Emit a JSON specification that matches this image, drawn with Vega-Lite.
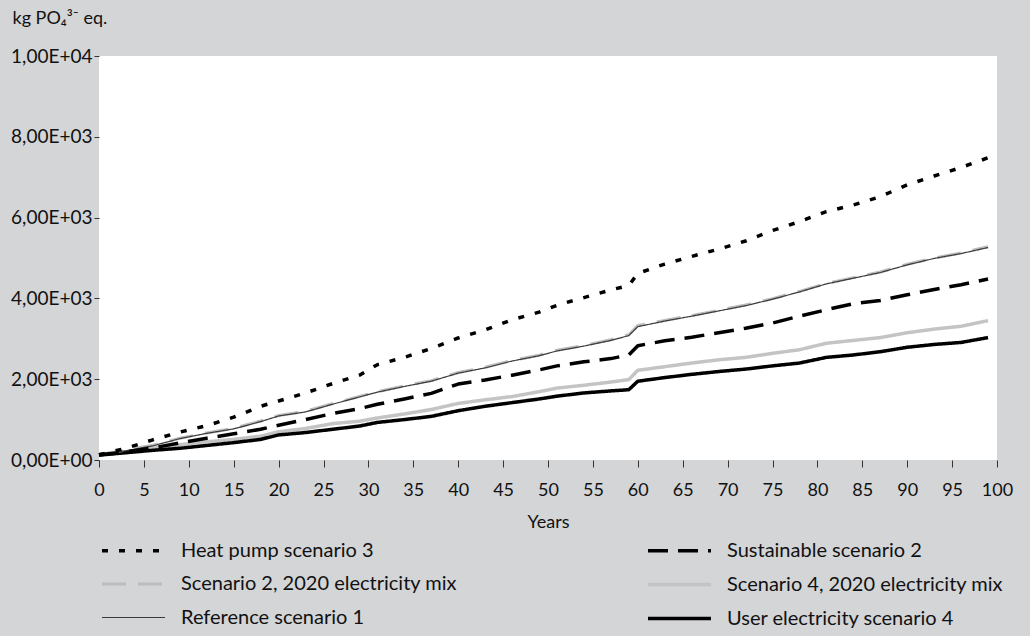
{
  "$schema": "https://vega.github.io/schema/vega-lite/v6.json",
  "width": 898,
  "height": 404,
  "autosize": "none",
  "padding": {"left": 99, "top": 56, "right": 33, "bottom": 176},
  "background": "#d4d5d7",
  "config": {
    "view": {"fill": "white", "stroke": null},
    "font": "Lato",
    "axis": {"labelFont": "Lato", "titleFont": "Lato", "labelColor": "#111", "titleColor": "#111", "tickColor": "#333", "grid": false, "domain": false}
  },
  "data": {"values": [
    {"series":"Scenario 4, 2020 electricity mix","year":0,"value":130},{"series":"Scenario 4, 2020 electricity mix","year":3,"value":200},{"series":"Scenario 4, 2020 electricity mix","year":6,"value":290},{"series":"Scenario 4, 2020 electricity mix","year":9,"value":380},{"series":"Scenario 4, 2020 electricity mix","year":12,"value":450},{"series":"Scenario 4, 2020 electricity mix","year":15,"value":510},{"series":"Scenario 4, 2020 electricity mix","year":18,"value":590},{"series":"Scenario 4, 2020 electricity mix","year":20,"value":700},{"series":"Scenario 4, 2020 electricity mix","year":23,"value":780},{"series":"Scenario 4, 2020 electricity mix","year":26,"value":900},{"series":"Scenario 4, 2020 electricity mix","year":29,"value":960},{"series":"Scenario 4, 2020 electricity mix","year":31,"value":1040},{"series":"Scenario 4, 2020 electricity mix","year":34,"value":1140},{"series":"Scenario 4, 2020 electricity mix","year":37,"value":1250},{"series":"Scenario 4, 2020 electricity mix","year":40,"value":1400},{"series":"Scenario 4, 2020 electricity mix","year":43,"value":1490},{"series":"Scenario 4, 2020 electricity mix","year":46,"value":1570},{"series":"Scenario 4, 2020 electricity mix","year":49,"value":1690},{"series":"Scenario 4, 2020 electricity mix","year":51,"value":1780},{"series":"Scenario 4, 2020 electricity mix","year":54,"value":1850},{"series":"Scenario 4, 2020 electricity mix","year":57,"value":1930},{"series":"Scenario 4, 2020 electricity mix","year":59,"value":1990},{"series":"Scenario 4, 2020 electricity mix","year":60,"value":2220},{"series":"Scenario 4, 2020 electricity mix","year":63,"value":2310},{"series":"Scenario 4, 2020 electricity mix","year":66,"value":2400},{"series":"Scenario 4, 2020 electricity mix","year":69,"value":2480},{"series":"Scenario 4, 2020 electricity mix","year":72,"value":2540},{"series":"Scenario 4, 2020 electricity mix","year":75,"value":2640},{"series":"Scenario 4, 2020 electricity mix","year":78,"value":2730},{"series":"Scenario 4, 2020 electricity mix","year":81,"value":2890},{"series":"Scenario 4, 2020 electricity mix","year":84,"value":2960},{"series":"Scenario 4, 2020 electricity mix","year":87,"value":3030},{"series":"Scenario 4, 2020 electricity mix","year":90,"value":3150},{"series":"Scenario 4, 2020 electricity mix","year":93,"value":3240},{"series":"Scenario 4, 2020 electricity mix","year":96,"value":3310},{"series":"Scenario 4, 2020 electricity mix","year":99,"value":3450},
    {"series":"User electricity scenario 4","year":0,"value":120},{"series":"User electricity scenario 4","year":3,"value":180},{"series":"User electricity scenario 4","year":6,"value":240},{"series":"User electricity scenario 4","year":9,"value":290},{"series":"User electricity scenario 4","year":12,"value":360},{"series":"User electricity scenario 4","year":15,"value":430},{"series":"User electricity scenario 4","year":18,"value":510},{"series":"User electricity scenario 4","year":20,"value":620},{"series":"User electricity scenario 4","year":23,"value":680},{"series":"User electricity scenario 4","year":26,"value":760},{"series":"User electricity scenario 4","year":29,"value":840},{"series":"User electricity scenario 4","year":31,"value":930},{"series":"User electricity scenario 4","year":34,"value":1000},{"series":"User electricity scenario 4","year":37,"value":1080},{"series":"User electricity scenario 4","year":40,"value":1220},{"series":"User electricity scenario 4","year":43,"value":1330},{"series":"User electricity scenario 4","year":46,"value":1420},{"series":"User electricity scenario 4","year":49,"value":1510},{"series":"User electricity scenario 4","year":51,"value":1580},{"series":"User electricity scenario 4","year":54,"value":1660},{"series":"User electricity scenario 4","year":57,"value":1710},{"series":"User electricity scenario 4","year":59,"value":1740},{"series":"User electricity scenario 4","year":60,"value":1950},{"series":"User electricity scenario 4","year":63,"value":2040},{"series":"User electricity scenario 4","year":66,"value":2120},{"series":"User electricity scenario 4","year":69,"value":2190},{"series":"User electricity scenario 4","year":72,"value":2250},{"series":"User electricity scenario 4","year":75,"value":2330},{"series":"User electricity scenario 4","year":78,"value":2400},{"series":"User electricity scenario 4","year":81,"value":2540},{"series":"User electricity scenario 4","year":84,"value":2600},{"series":"User electricity scenario 4","year":87,"value":2680},{"series":"User electricity scenario 4","year":90,"value":2790},{"series":"User electricity scenario 4","year":93,"value":2860},{"series":"User electricity scenario 4","year":96,"value":2910},{"series":"User electricity scenario 4","year":99,"value":3030},
    {"series":"Scenario 2, 2020 electricity mix","year":0,"value":135},{"series":"Scenario 2, 2020 electricity mix","year":3,"value":245},{"series":"Scenario 2, 2020 electricity mix","year":6,"value":365},{"series":"Scenario 2, 2020 electricity mix","year":9,"value":540},{"series":"Scenario 2, 2020 electricity mix","year":12,"value":670},{"series":"Scenario 2, 2020 electricity mix","year":15,"value":785},{"series":"Scenario 2, 2020 electricity mix","year":18,"value":965},{"series":"Scenario 2, 2020 electricity mix","year":20,"value":1100},{"series":"Scenario 2, 2020 electricity mix","year":23,"value":1205},{"series":"Scenario 2, 2020 electricity mix","year":26,"value":1395},{"series":"Scenario 2, 2020 electricity mix","year":29,"value":1575},{"series":"Scenario 2, 2020 electricity mix","year":31,"value":1690},{"series":"Scenario 2, 2020 electricity mix","year":34,"value":1835},{"series":"Scenario 2, 2020 electricity mix","year":37,"value":1965},{"series":"Scenario 2, 2020 electricity mix","year":40,"value":2165},{"series":"Scenario 2, 2020 electricity mix","year":43,"value":2295},{"series":"Scenario 2, 2020 electricity mix","year":46,"value":2465},{"series":"Scenario 2, 2020 electricity mix","year":49,"value":2595},{"series":"Scenario 2, 2020 electricity mix","year":51,"value":2715},{"series":"Scenario 2, 2020 electricity mix","year":54,"value":2835},{"series":"Scenario 2, 2020 electricity mix","year":57,"value":2975},{"series":"Scenario 2, 2020 electricity mix","year":59,"value":3100},{"series":"Scenario 2, 2020 electricity mix","year":60,"value":3330},{"series":"Scenario 2, 2020 electricity mix","year":63,"value":3455},{"series":"Scenario 2, 2020 electricity mix","year":66,"value":3575},{"series":"Scenario 2, 2020 electricity mix","year":69,"value":3705},{"series":"Scenario 2, 2020 electricity mix","year":72,"value":3835},{"series":"Scenario 2, 2020 electricity mix","year":75,"value":3995},{"series":"Scenario 2, 2020 electricity mix","year":78,"value":4175},{"series":"Scenario 2, 2020 electricity mix","year":81,"value":4370},{"series":"Scenario 2, 2020 electricity mix","year":84,"value":4515},{"series":"Scenario 2, 2020 electricity mix","year":87,"value":4655},{"series":"Scenario 2, 2020 electricity mix","year":90,"value":4845},{"series":"Scenario 2, 2020 electricity mix","year":93,"value":5000},{"series":"Scenario 2, 2020 electricity mix","year":96,"value":5125},{"series":"Scenario 2, 2020 electricity mix","year":99,"value":5280},
    {"series":"Reference scenario 1","year":0,"value":130},{"series":"Reference scenario 1","year":3,"value":230},{"series":"Reference scenario 1","year":6,"value":350},{"series":"Reference scenario 1","year":9,"value":530},{"series":"Reference scenario 1","year":12,"value":660},{"series":"Reference scenario 1","year":15,"value":770},{"series":"Reference scenario 1","year":18,"value":950},{"series":"Reference scenario 1","year":20,"value":1090},{"series":"Reference scenario 1","year":23,"value":1190},{"series":"Reference scenario 1","year":26,"value":1380},{"series":"Reference scenario 1","year":29,"value":1560},{"series":"Reference scenario 1","year":31,"value":1680},{"series":"Reference scenario 1","year":34,"value":1820},{"series":"Reference scenario 1","year":37,"value":1950},{"series":"Reference scenario 1","year":40,"value":2150},{"series":"Reference scenario 1","year":43,"value":2280},{"series":"Reference scenario 1","year":46,"value":2450},{"series":"Reference scenario 1","year":49,"value":2580},{"series":"Reference scenario 1","year":51,"value":2700},{"series":"Reference scenario 1","year":54,"value":2820},{"series":"Reference scenario 1","year":57,"value":2960},{"series":"Reference scenario 1","year":59,"value":3080},{"series":"Reference scenario 1","year":60,"value":3300},{"series":"Reference scenario 1","year":63,"value":3440},{"series":"Reference scenario 1","year":66,"value":3560},{"series":"Reference scenario 1","year":69,"value":3690},{"series":"Reference scenario 1","year":72,"value":3820},{"series":"Reference scenario 1","year":75,"value":3980},{"series":"Reference scenario 1","year":78,"value":4160},{"series":"Reference scenario 1","year":81,"value":4360},{"series":"Reference scenario 1","year":84,"value":4500},{"series":"Reference scenario 1","year":87,"value":4640},{"series":"Reference scenario 1","year":90,"value":4830},{"series":"Reference scenario 1","year":93,"value":4990},{"series":"Reference scenario 1","year":96,"value":5110},{"series":"Reference scenario 1","year":99,"value":5260},
    {"series":"Sustainable scenario 2","year":0,"value":130},{"series":"Sustainable scenario 2","year":3,"value":200},{"series":"Sustainable scenario 2","year":6,"value":300},{"series":"Sustainable scenario 2","year":9,"value":420},{"series":"Sustainable scenario 2","year":12,"value":540},{"series":"Sustainable scenario 2","year":15,"value":650},{"series":"Sustainable scenario 2","year":18,"value":760},{"series":"Sustainable scenario 2","year":20,"value":860},{"series":"Sustainable scenario 2","year":23,"value":1000},{"series":"Sustainable scenario 2","year":26,"value":1150},{"series":"Sustainable scenario 2","year":29,"value":1270},{"series":"Sustainable scenario 2","year":31,"value":1380},{"series":"Sustainable scenario 2","year":34,"value":1510},{"series":"Sustainable scenario 2","year":37,"value":1650},{"series":"Sustainable scenario 2","year":40,"value":1880},{"series":"Sustainable scenario 2","year":43,"value":1980},{"series":"Sustainable scenario 2","year":46,"value":2100},{"series":"Sustainable scenario 2","year":49,"value":2230},{"series":"Sustainable scenario 2","year":51,"value":2330},{"series":"Sustainable scenario 2","year":54,"value":2430},{"series":"Sustainable scenario 2","year":57,"value":2510},{"series":"Sustainable scenario 2","year":59,"value":2600},{"series":"Sustainable scenario 2","year":60,"value":2830},{"series":"Sustainable scenario 2","year":63,"value":2950},{"series":"Sustainable scenario 2","year":66,"value":3040},{"series":"Sustainable scenario 2","year":69,"value":3150},{"series":"Sustainable scenario 2","year":72,"value":3260},{"series":"Sustainable scenario 2","year":75,"value":3390},{"series":"Sustainable scenario 2","year":78,"value":3560},{"series":"Sustainable scenario 2","year":81,"value":3720},{"series":"Sustainable scenario 2","year":84,"value":3870},{"series":"Sustainable scenario 2","year":87,"value":3950},{"series":"Sustainable scenario 2","year":90,"value":4090},{"series":"Sustainable scenario 2","year":93,"value":4220},{"series":"Sustainable scenario 2","year":96,"value":4340},{"series":"Sustainable scenario 2","year":99,"value":4480},
    {"series":"Heat pump scenario 3","year":0,"value":130},{"series":"Heat pump scenario 3","year":3,"value":290},{"series":"Heat pump scenario 3","year":6,"value":500},{"series":"Heat pump scenario 3","year":9,"value":690},{"series":"Heat pump scenario 3","year":12,"value":850},{"series":"Heat pump scenario 3","year":15,"value":1060},{"series":"Heat pump scenario 3","year":18,"value":1330},{"series":"Heat pump scenario 3","year":20,"value":1460},{"series":"Heat pump scenario 3","year":23,"value":1660},{"series":"Heat pump scenario 3","year":26,"value":1890},{"series":"Heat pump scenario 3","year":29,"value":2100},{"series":"Heat pump scenario 3","year":31,"value":2360},{"series":"Heat pump scenario 3","year":34,"value":2540},{"series":"Heat pump scenario 3","year":37,"value":2760},{"series":"Heat pump scenario 3","year":40,"value":3020},{"series":"Heat pump scenario 3","year":43,"value":3220},{"series":"Heat pump scenario 3","year":46,"value":3470},{"series":"Heat pump scenario 3","year":49,"value":3660},{"series":"Heat pump scenario 3","year":51,"value":3830},{"series":"Heat pump scenario 3","year":54,"value":4020},{"series":"Heat pump scenario 3","year":57,"value":4210},{"series":"Heat pump scenario 3","year":59,"value":4320},{"series":"Heat pump scenario 3","year":60,"value":4620},{"series":"Heat pump scenario 3","year":63,"value":4850},{"series":"Heat pump scenario 3","year":66,"value":5040},{"series":"Heat pump scenario 3","year":69,"value":5220},{"series":"Heat pump scenario 3","year":72,"value":5420},{"series":"Heat pump scenario 3","year":75,"value":5680},{"series":"Heat pump scenario 3","year":78,"value":5900},{"series":"Heat pump scenario 3","year":81,"value":6150},{"series":"Heat pump scenario 3","year":84,"value":6310},{"series":"Heat pump scenario 3","year":87,"value":6520},{"series":"Heat pump scenario 3","year":90,"value":6810},{"series":"Heat pump scenario 3","year":93,"value":7030},{"series":"Heat pump scenario 3","year":96,"value":7240},{"series":"Heat pump scenario 3","year":99,"value":7480}
  ]},
  "mark": {"type": "line", "strokeCap": "butt", "strokeJoin": "round"},
  "encoding": {
    "x": {"field": "year", "type": "quantitative", "scale": {"domain": [0, 100], "nice": false, "zero": false},
      "axis": {"values": [0,5,10,15,20,25,30,35,40,45,50,55,60,65,70,75,80,85,90,95,100], "title": "Years", "titleFontSize": 18, "titleFontWeight": "normal", "titlePadding": 14, "labelFontSize": 18, "tickSize": 7, "labelPadding": 14, "labelDx": 4, "labelFlush": false}},
    "y": {"field": "value", "type": "quantitative", "scale": {"domain": [0, 10000], "nice": false},
      "axis": {"values": [0,2000,4000,6000,8000,10000], "tickSize": 5, "labelPadding": 2, "labelFontSize": 19,
        "labelExpr": "datum.value == 0 ? '0,00E+00' : datum.value == 10000 ? '1,00E+04' : format(datum.value/1000, '.0f') + ',00E+03'",
        "title": "kg PO₄³⁻ eq.", "titleAngle": 0, "titleAlign": "left", "titleBaseline": "middle", "titleX": -87, "titleY": -38, "titleFontSize": 18, "titleFontWeight": "normal"}},
    "color": {"field": "series", "type": "nominal",
      "scale": {"domain": ["Heat pump scenario 3", "Scenario 2, 2020 electricity mix", "Reference scenario 1", "Sustainable scenario 2", "Scenario 4, 2020 electricity mix", "User electricity scenario 4"],
        "range": ["#000000", "#bdbdbd", "#3a3a3a", "#000000", "#c4c4c4", "#000000"]},
      "legend": {"title": null, "orient": "none", "legendX": 22, "legendY": 482, "columns": 2, "columnPadding": 184, "rowPadding": 11, "symbolType": "M-3,0H3", "symbolSize": 441, "labelFontSize": 20, "labelColor": "#111", "labelOffset": 35, "labelLimit": 400, "padding": 0}},
    "strokeDash": {"field": "series", "type": "nominal",
      "scale": {"domain": ["Heat pump scenario 3", "Scenario 2, 2020 electricity mix", "Reference scenario 1", "Sustainable scenario 2", "Scenario 4, 2020 electricity mix", "User electricity scenario 4"],
        "range": [[6, 11], [24, 12], [1, 0], [20, 10], [1, 0], [1, 0]]}},
    "strokeWidth": {"field": "series", "type": "nominal",
      "scale": {"type": "ordinal", "domain": ["Heat pump scenario 3", "Scenario 2, 2020 electricity mix", "Reference scenario 1", "Sustainable scenario 2", "Scenario 4, 2020 electricity mix", "User electricity scenario 4"],
        "range": [3.5, 3, 1.2, 3.5, 3.5, 3.5]}}
  }
}
